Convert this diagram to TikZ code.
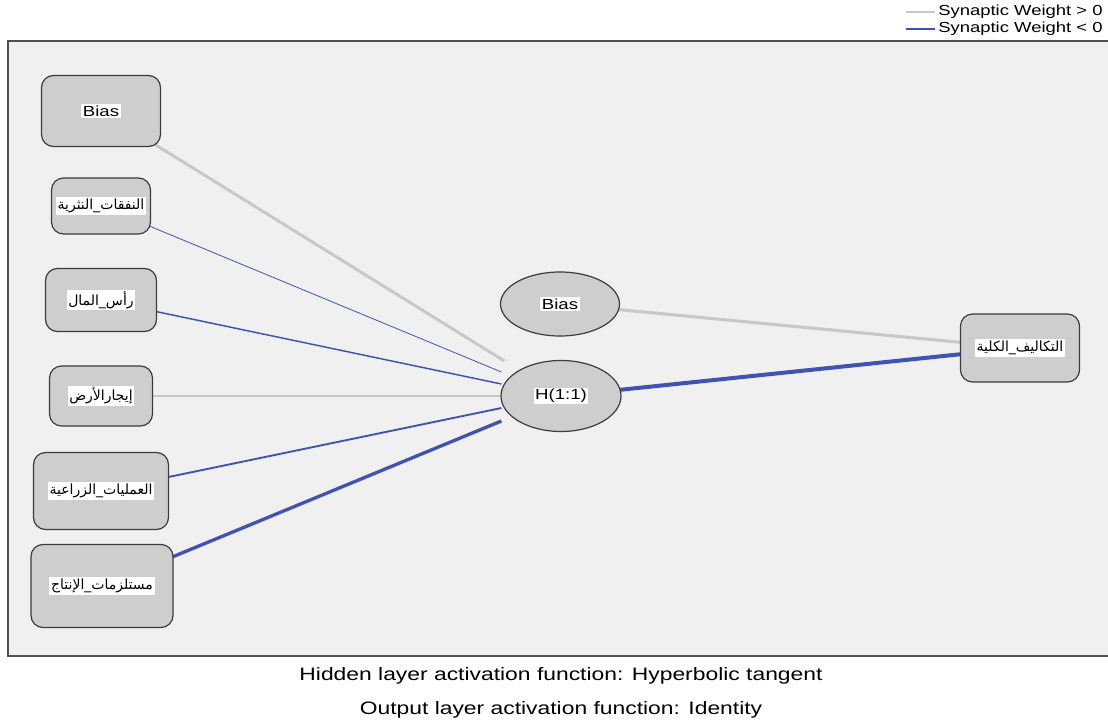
\documentclass[tikz,border=0pt]{standalone}
\usepackage{fontspec}
\setmainfont{Liberation Sans}[FakeStretch=1.27]
\newfontfamily\arabicfont[Script=Arabic]{DejaVu Sans}
\TeXXeTstate=1
\usetikzlibrary{shapes.geometric,backgrounds,calc}

\definecolor{frameBg}{RGB}{240,240,240}
\definecolor{unitFill}{RGB}{206,206,206}
\definecolor{unitDraw}{RGB}{60,60,60}
\definecolor{posW}{RGB}{200,200,200}
\definecolor{negW}{RGB}{64,82,180}

\setlength{\fboxsep}{1.2pt}
\newcommand{\lab}[1]{\colorbox{white}{#1}}
\newcommand{\arlab}[1]{\colorbox{white}{\arabicfont\fontsize{10.5}{12}\selectfont\beginR #1\endR}}

\tikzset{
  sz/.style 2 args={minimum width=#1*0.75pt, minimum height=#2*0.75pt},
  unit/.style={draw=unitDraw, line width=0.9pt, fill=unitFill, inner sep=0pt, font=\fontsize{11}{13}\selectfont},
  inbox/.style={unit, rectangle, rounded corners=9pt},
  hid/.style={unit, ellipse},
  wpos/.style={draw=posW, line width=#1},
  wneg/.style={draw=negW, line width=#1}
}

\begin{document}
\begin{tikzpicture}[x=0.75pt, y=-0.75pt]
  \useasboundingbox (0,0) rectangle (1108,725);

  % input layer
  \node[inbox, sz={119}{71}] (b0) at (101,111) {\lab{Bias}};
  \node[inbox, sz={99}{56}]  (b1) at (101,206) {\arlab{النفقات\_النثرية}};
  \node[inbox, sz={111}{63}] (b2) at (101,300) {\arlab{رأس\_المال}};
  \node[inbox, sz={103}{60}] (b3) at (101,396) {\arlab{إيجارالأرض}};
  \node[inbox, sz={135}{77}] (b4) at (101,491) {\arlab{العمليات\_الزراعية}};
  \node[inbox, sz={142}{83}] (b5) at (102,586) {\arlab{مستلزمات\_الإنتاج}};

  % hidden and output layer
  \node[hid, sz={119}{64}] (hb) at (560,304) {\lab{Bias}};
  \node[hid, sz={120}{71}] (H)  at (561,396) {\lab{H(1:1)}};
  \node[inbox, sz={119}{68}] (out) at (1020,348) {\arlab{التكاليف\_الكلية}};

  % ends of the input connectors
  \coordinate (t0) at ($(H.west)+(4,-35)$);
  \coordinate (t1) at ($(H.west)+(1,-24)$);
  \coordinate (t2) at ($(H.west)+(1,-12)$);
  \coordinate (t3) at ($(H.west)+(0,0)$);
  \coordinate (t4) at ($(H.west)+(1,12)$);
  \coordinate (t5) at ($(H.west)+(1,25)$);

  \begin{scope}[on background layer]
    \fill[frameBg] (8,41) rectangle (1115,656);
    \draw[unitDraw!90, line width=0.9pt] (1115,41) -- (8,41) -- (8,656) -- (1115,656);
    \draw[wpos=2.2pt] (b0.center) -- (t0);
    \draw[wneg=0.6pt] (b1.center) -- (t1);
    \draw[wneg=1.1pt] (b2.center) -- (t2);
    \draw[wpos=1.5pt] (b3.center) -- (t3);
    \draw[wneg=1.4pt] (b4.center) -- (t4);
    \draw[wneg=2.5pt] (b5.center) -- (t5);
    \draw[wpos=2.3pt] (hb.center) -- (out.center);
    \draw[wneg=3pt] (H.center) -- (out.center);
  \end{scope}

  % legend
  \node[anchor=west, inner sep=0pt, font=\fontsize{10.9}{13}\selectfont] (lg1) at (938,12) {Synaptic Weight > 0};
  \node[anchor=west, inner sep=0pt, font=\fontsize{10.9}{13}\selectfont] (lg2) at (938,29) {Synaptic Weight < 0};
  \draw[wpos=1pt] ([xshift=-24pt]lg1.west) -- ([xshift=-2pt]lg1.west);
  \draw[wneg=1pt] ([xshift=-24pt]lg2.west) -- ([xshift=-2pt]lg2.west);

  % captions
  \node[font=\fontsize{13.5}{16}\selectfont] (cap1) at (561,676) {Hidden layer activation function: Hyperbolic tangent};
  \node[font=\fontsize{13.5}{16}\selectfont] (cap2) at (561,710) {Output layer activation function: Identity};
\end{tikzpicture}
\end{document}
